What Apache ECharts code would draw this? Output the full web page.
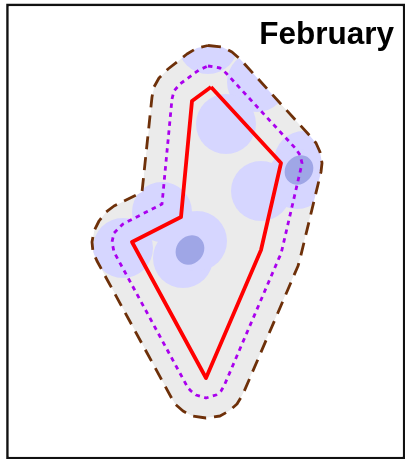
<!DOCTYPE html>
<html>
<head>
<meta charset="utf-8">
<style>html,body{margin:0;padding:0;background:#fff}#c{width:405px;height:459px}</style>
<script src="https://cdn.jsdelivr.net/npm/echarts@6/dist/echarts.min.js"></script>
</head>
<body>
<div id="c"></div>
<script>
var titleText = 'February';
var outerBoundary = [[208,45.5],[222,47],[232,52],[240,59],[310,136],[316,143],[320,152],[322,163],[321,172],[300,259],[298,266],[243,394],[237,404],[229,411],[220,416],[206,418],[192,416],[183,411],[175,404],[171,397],[97,261],[93,252],[92,242],[94,231],[99,221],[106,212],[114,206],[142,192],[152,97],[154,87],[159,78],[168,69],[187,54],[197,48]];
var innerBoundary = [[208,66],[220,68],[226,73],[296,149],[300,155],[302,163],[301,168],[281,254],[279,258],[224,386],[221,391],[216,395],[206,398],[196,395],[191,391],[188,388],[114,252],[112,242],[114,233],[123,224],[162,204],[172,99],[174,91],[180,84],[199,70],[208,66]];
var redArea = [[211,87],[281,163],[261,250],[206,378],[132,242],[181,217],[192,101],[211,87]];
var lightPoints = [[208,44],[257,82],[226,124],[261,191],[304,161],[297,179],[162,212],[123,248],[183,258],[197,241]];
var densePoints = [[299,170],[190,250]];

var XMIN = 7.5, XMAX = 404, YMIN = 5, YMAX = 458;
var INSET = 1.3;

var chart = echarts.init(document.getElementById('c'), null, {renderer: 'canvas'});

function hullPoly(params, api) {
  return {
    type: 'polygon',
    shape: {points: outerBoundary.map(function (p) { return api.coord(p); })},
    style: {fill: '#ebebeb', stroke: null}
  };
}
function maskPoly(params, api) {
  var l = XMIN + INSET, r = XMAX - INSET, t = YMIN + INSET, b = YMAX - INSET;
  var pts = [[l,t],[r,t],[r,b],[l,b],[l,t]];
  var ring = outerBoundary.slice().reverse();
  pts = pts.concat([ring[ring.length-1]], ring, [[l,t]]);
  return {
    type: 'polygon',
    shape: {points: pts.map(function (p) { return api.coord(p); })},
    style: {fill: '#ffffff', stroke: null}
  };
}
function denseEllipse(params, api) {
  var c = api.coord([api.value(0), api.value(1)]);
  return {
    type: 'ellipse',
    x: c[0], y: c[1],
    rotation: -40 * Math.PI / 180,
    shape: {cx: 0, cy: 0, rx: 13.5, ry: 15.5},
    style: {fill: '#9fa6e6'}
  };
}
function lineSeries(data, color, width, dash, z) {
  return {
    type: 'line', data: data, symbol: 'none', silent: true, z: z, clip: false,
    lineStyle: {color: color, width: width, type: dash, join: 'round', cap: 'butt'}
  };
}

chart.setOption({
  animation: false,
  backgroundColor: '#ffffff',
  title: {
    text: titleText, right: 11, top: 19, padding: 0,
    textStyle: {fontFamily: 'Liberation Sans', fontWeight: 'bold', fontSize: 31.5, color: '#000'}
  },
  grid: {left: XMIN, top: YMIN, width: XMAX - XMIN, height: YMAX - YMIN, show: true,
         borderColor: '#111', borderWidth: 2.5, backgroundColor: '#fff'},
  xAxis: {type: 'value', min: XMIN, max: XMAX, show: false},
  yAxis: {type: 'value', min: YMIN, max: YMAX, inverse: true, show: false},
  series: [
    {type: 'custom', renderItem: hullPoly, data: [[0, 0]], z: 1, silent: true, clip: false},
    {type: 'scatter', data: lightPoints, symbol: 'circle', symbolSize: 60, z: 2, silent: true,
     itemStyle: {color: '#d6d6ff', opacity: 1}},
    {type: 'custom', renderItem: maskPoly, data: [[0, 0]], z: 3, silent: true, clip: false},
    {type: 'custom', renderItem: denseEllipse, data: densePoints, encode: {x: 0, y: 1}, z: 4, silent: true, clip: false},
    lineSeries(outerBoundary.concat([outerBoundary[0]]), '#6e3009', 2.8, [13, 8], 5),
    lineSeries(innerBoundary, '#aa00ee', 2.8, [4.5, 4.5], 6),
    lineSeries(redArea, '#ff0000', 3.8, 'solid', 7)
  ]
});
</script>
</body>
</html>
